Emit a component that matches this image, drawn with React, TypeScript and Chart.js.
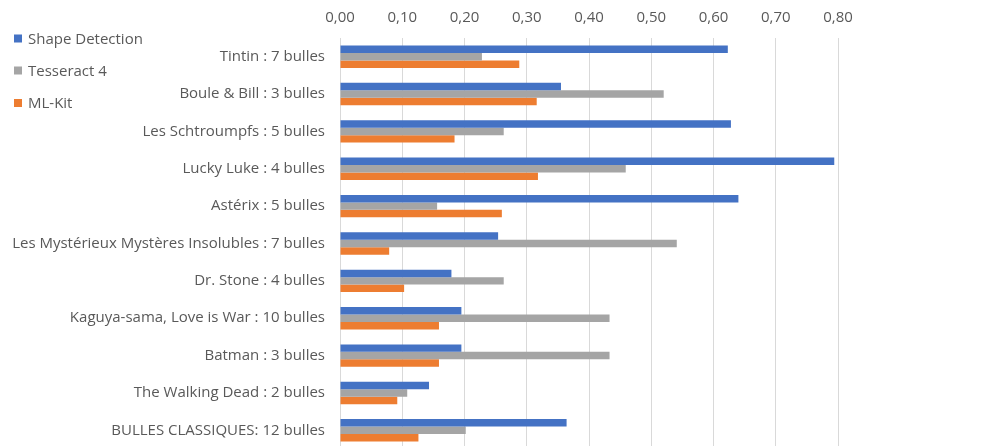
import React, { useEffect, useRef } from "react";
import { Chart, registerables } from "chart.js";

Chart.register(...registerables);

const categories = [
  "Tintin : 7 bulles",
  "Boule & Bill : 3 bulles",
  "Les Schtroumpfs : 5 bulles",
  "Lucky Luke : 4 bulles",
  "Astérix : 5 bulles",
  "Les Mystérieux Mystères Insolubles : 7 bulles",
  "Dr. Stone : 4 bulles",
  "Kaguya-sama, Love is War : 10 bulles",
  "Batman : 3 bulles",
  "The Walking Dead : 2 bulles",
  "BULLES CLASSIQUES: 12 bulles",
];

const shapeDetection = [0.623, 0.355, 0.628, 0.794, 0.64, 0.254, 0.179, 0.195, 0.195, 0.143, 0.364];
const tesseract4 = [0.228, 0.52, 0.263, 0.459, 0.156, 0.541, 0.263, 0.433, 0.433, 0.108, 0.202];
const mlKit = [0.288, 0.316, 0.184, 0.318, 0.26, 0.079, 0.103, 0.159, 0.159, 0.092, 0.126];

const seriesNames = ["Shape Detection", "Tesseract 4", "ML-Kit"];
const seriesColors = ["#4472C4", "#A5A5A5", "#ED7D31"];
const xTickLabels = ["0,00", "0,10", "0,20", "0,30", "0,40", "0,50", "0,60", "0,70", "0,80"];

const FONT = "'Open Sans'";
const FONT_SIZE = 15;
const TEXT_COLOR = "#595959";
const LEGEND_Y = [38.5, 70.5, 103];

const sideLegend = {
  id: "sideLegend",
  afterDraw(chart: any) {
    const ctx = chart.ctx;
    ctx.save();
    ctx.font = `${FONT_SIZE}px ${FONT}`;
    ctx.textBaseline = "middle";
    ctx.textAlign = "left";
    chart.data.datasets.forEach((ds: any, i: number) => {
      const y = LEGEND_Y[i];
      ctx.fillStyle = ds.backgroundColor;
      ctx.fillRect(14, y - 4, 8, 8);
      ctx.fillStyle = TEXT_COLOR;
      ctx.fillText(ds.label, 28, y + 1);
    });
    ctx.restore();
  },
};

export default function App() {
  const ref = useRef<HTMLCanvasElement | null>(null);

  useEffect(() => {
    if (!ref.current) return;
    const data = [shapeDetection, tesseract4, mlKit];
    const chart = new Chart(ref.current, {
      type: "bar",
      data: {
        labels: categories,
        datasets: data.map((d, i) => ({
          label: seriesNames[i],
          data: d,
          backgroundColor: seriesColors[i],
          borderWidth: 0,
          categoryPercentage: 0.6,
          barPercentage: 1.0,
        })),
      },
      options: {
        indexAxis: "y",
        animation: false,
        responsive: false,
        maintainAspectRatio: false,
        devicePixelRatio: 1,
        layout: { padding: { left: 0, right: 161, top: 0, bottom: 0 } },
        plugins: {
          legend: { display: false },
          tooltip: { enabled: false },
        },
        scales: {
          x: {
            position: "top",
            min: 0,
            max: 0.8,
            ticks: {
              stepSize: 0.1,
              color: TEXT_COLOR,
              font: { family: FONT, size: FONT_SIZE },
              padding: 11,
              callback: (_v: any, idx: number) => xTickLabels[idx],
            },
            grid: { color: "#D9D9D9", lineWidth: 1, drawTicks: false },
            border: { display: false },
            afterFit: (s: any) => {
              s.height = 38;
            },
          },
          y: {
            ticks: {
              color: TEXT_COLOR,
              font: { family: FONT, size: FONT_SIZE },
              padding: 15,
              autoSkip: false,
            },
            grid: { display: false, drawTicks: false },
            border: { display: false },
            afterFit: (s: any) => {
              s.width = 340;
              s.paddingTop = 0;
              s.paddingBottom = 0;
            },
          },
        },
      },
      plugins: [sideLegend],
    });
    return () => chart.destroy();
  }, []);

  return (
    <div style={{ position: "absolute", left: 0, top: 0, width: 999, height: 446, overflow: "hidden", background: "#fff" }}>
      <canvas ref={ref} width={999} height={449} style={{ display: "block" }} />
    </div>
  );
}
